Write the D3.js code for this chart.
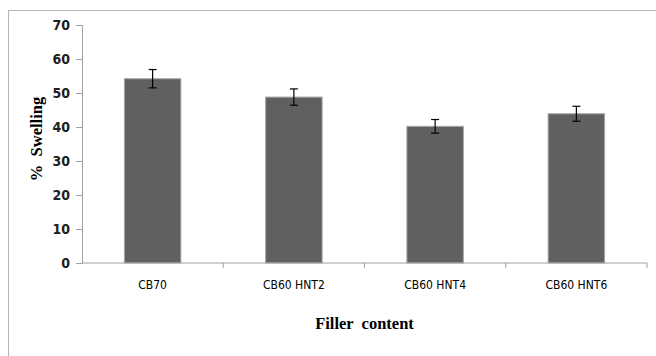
<!DOCTYPE html>
<html>
<head>
	<meta charset="utf-8">
	<script src="https://cdn.jsdelivr.net/npm/d3@7/dist/d3.min.js"></script>
	<style>
		body { margin: 0; background: #fff; }
		.tick text { font-family: "DejaVu Sans Condensed", "DejaVu Sans", sans-serif; }
	</style>
</head>
<body>
	<svg id="chart" width="656" height="356"></svg>
	<script>
		// data
		var categories = ['CB70', 'CB60 HNT2', 'CB60 HNT4', 'CB60 HNT6'];
		var swelling = [54.2, 48.8, 40.2, 43.9];
		var errors = [2.7, 2.4, 2.0, 2.2];
		var yTicks = [0, 10, 20, 30, 40, 50, 60, 70];

		var svg = d3.select('#chart'),
			margin = { left: 82, right: 9, top: 25, bottom: 93 },
			width = +svg.attr('width'),
			height = +svg.attr('height');

		// outer frame (only top and left visible inside the crop)
		svg.append('rect')
			.attr('x', 8.5).attr('y', 10.5)
			.attr('width', 700).attr('height', 400)
			.attr('fill', 'none')
			.attr('stroke', '#b4b4b4')
			.attr('stroke-width', 1);

		var x = d3.scaleBand()
			.domain(categories)
			.range([margin.left, width - margin.right])
			.paddingInner(0.6)
			.paddingOuter(0.3);

		var y = d3.scaleLinear()
			.domain([0, 70])
			.range([height - margin.bottom, margin.top]);

		var data = categories.map((c, i) => ({ name: c, value: swelling[i], err: errors[i] }));

		// bars
		svg.append('g').selectAll('rect')
			.data(data)
			.enter().append('rect')
			.attr('x', d => x(d.name))
			.attr('y', d => y(d.value))
			.attr('width', x.bandwidth())
			.attr('height', d => y(0) - y(d.value))
			.attr('fill', '#606060')
			.attr('stroke', '#a8a8a8')
			.attr('stroke-width', 1);

		// error bars
		var eb = svg.append('g').selectAll('g')
			.data(data)
			.enter().append('g')
			.attr('stroke', '#000')
			.attr('stroke-width', 1.2);
		eb.append('line')
			.attr('x1', d => x(d.name) + x.bandwidth() / 2)
			.attr('x2', d => x(d.name) + x.bandwidth() / 2)
			.attr('y1', d => y(d.value + d.err))
			.attr('y2', d => y(d.value - d.err));
		eb.selectAll('.cap')
			.data(d => [d.value + d.err, d.value - d.err].map(v => ({ name: d.name, v: v })))
			.enter().append('line')
			.attr('class', 'cap')
			.attr('x1', d => x(d.name) + x.bandwidth() / 2 - 4)
			.attr('x2', d => x(d.name) + x.bandwidth() / 2 + 4)
			.attr('y1', d => y(d.v))
			.attr('y2', d => y(d.v));

		// y axis
		var yAxis = svg.append('g')
			.attr('transform', 'translate(' + margin.left + ',0)')
			.call(d3.axisLeft(y).tickValues(yTicks).tickSize(6).tickPadding(6));
		yAxis.selectAll('path, line').attr('stroke', '#a0a0a0');
		yAxis.selectAll('text')
			.attr('font-size', 14)
			.attr('font-weight', 'bold')
			.attr('fill', '#202020');

		// x axis with ticks at band boundaries
		var xAxis = svg.append('g')
			.attr('transform', 'translate(0,' + y(0) + ')');
		xAxis.append('line')
			.attr('x1', margin.left).attr('x2', width - margin.right)
			.attr('stroke', '#a0a0a0');
		var step = x.step();
		xAxis.selectAll('.xt')
			.data(categories)
			.enter().append('line')
			.attr('class', 'xt')
			.attr('x1', d => x(d) + x.bandwidth() / 2 + step / 2)
			.attr('x2', d => x(d) + x.bandwidth() / 2 + step / 2)
			.attr('y1', 0).attr('y2', 5)
			.attr('stroke', '#a0a0a0');
		xAxis.selectAll('text')
			.data(categories)
			.enter().append('text')
			.attr('x', d => x(d) + x.bandwidth() / 2)
			.attr('y', 26)
			.attr('text-anchor', 'middle')
			.attr('font-family', '"DejaVu Sans Condensed", "DejaVu Sans", sans-serif')
			.attr('font-size', 12)
			.attr('fill', '#000')
			.text(d => d);

		// axis titles
		svg.append('text')
			.attr('x', (margin.left + width - margin.right) / 2)
			.attr('y', 329)
			.attr('text-anchor', 'middle')
			.attr('font-family', '"Liberation Serif", serif')
			.attr('font-weight', 'bold')
			.attr('font-size', 16.5)
			.attr('xml:space', 'preserve')
			.text('Filler  content');

		svg.append('text')
			.attr('transform', 'translate(42,139) rotate(-90)')
			.attr('text-anchor', 'middle')
			.attr('font-family', '"Liberation Serif", serif')
			.attr('font-weight', 'bold')
			.attr('font-size', 16.5)
			.attr('xml:space', 'preserve')
			.text('%  Swelling');
	</script>
</body>
</html>
